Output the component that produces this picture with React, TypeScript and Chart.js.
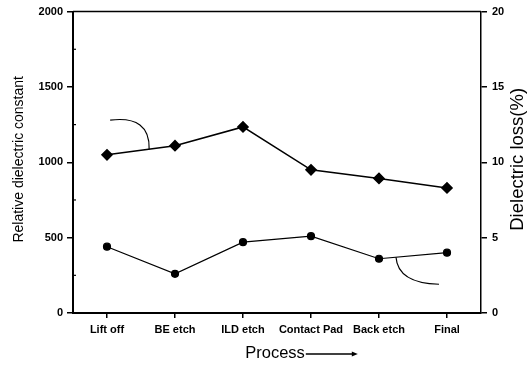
import React, { useEffect, useRef } from 'react';
import { Chart, registerables } from 'chart.js';

Chart.register(...registerables);

const categories = ['Lift off', 'BE etch', 'ILD etch', 'Contact Pad', 'Back etch', 'Final'];
const dielectricConstant = [1050, 1110, 1235, 950, 893, 830];
const dielectricLoss = [4.4, 2.6, 4.7, 5.1, 3.6, 4.0];
const leftMinorTicks = [250, 750, 1250, 1750];

const xTitle = 'Process';
const yTitle = 'Relative dielectric constant';
const y1Title = 'Dielectric loss(%)';

const FONT = "'Liberation Sans', Arial, sans-serif";

const decorPlugin = {
  id: 'decor',
  afterDraw(chart: any) {
    const { ctx, chartArea } = chart;
    const x = chart.scales.x;
    const y = chart.scales.y;
    const y1 = chart.scales.y1;
    ctx.save();
    ctx.strokeStyle = '#000';
    ctx.fillStyle = '#000';
    // top border
    ctx.lineWidth = 1.5;
    ctx.beginPath();
    ctx.moveTo(chartArea.left, chartArea.top);
    ctx.lineTo(chartArea.right, chartArea.top);
    ctx.stroke();
    // minor ticks on left axis
    ctx.lineWidth = 1.2;
    leftMinorTicks.forEach((v) => {
      const py = y.getPixelForValue(v);
      ctx.beginPath();
      ctx.moveTo(chartArea.left - 1, py);
      ctx.lineTo(chartArea.left + 3, py);
      ctx.stroke();
    });
    // annotation curve for upper series (points to left axis)
    const f = 0.62;
    const ex = x.getPixelForValue(f);
    const ey = y.getPixelForValue(dielectricConstant[0] + (dielectricConstant[1] - dielectricConstant[0]) * f);
    ctx.lineWidth = 1.2;
    ctx.beginPath();
    ctx.moveTo(ex - 39, ey - 29);
    ctx.quadraticCurveTo(ex + 1, ey - 34, ex, ey);
    ctx.stroke();
    // annotation curve for lower series (points to right axis)
    const g = 0.25;
    const sx = x.getPixelForValue(4 + g);
    const sy = y1.getPixelForValue(dielectricLoss[4] + (dielectricLoss[5] - dielectricLoss[4]) * g);
    ctx.beginPath();
    ctx.moveTo(sx, sy);
    ctx.quadraticCurveTo(sx + 2, sy + 26, sx + 43, sy + 27);
    ctx.stroke();

    // axis titles
    ctx.textBaseline = 'middle';
    ctx.textAlign = 'center';
    const midY = (chartArea.top + chartArea.bottom) / 2 - 3;
    // left title
    ctx.save();
    ctx.font = `14px ${FONT}`;
    ctx.translate(19, midY);
    ctx.rotate(-Math.PI / 2);
    ctx.fillText(yTitle, 0, 0);
    ctx.restore();
    // right title
    ctx.save();
    ctx.font = `18.5px ${FONT}`;
    ctx.translate(518, midY);
    ctx.rotate(-Math.PI / 2);
    ctx.fillText(y1Title, 0, 0);
    ctx.restore();
    // bottom title with arrow
    ctx.font = `16.5px ${FONT}`;
    const cx = (chartArea.left + chartArea.right) / 2 - 2;
    const ty = 353;
    ctx.fillText(xTitle, cx, ty);
    const tw = ctx.measureText(xTitle).width;
    const ax0 = cx + tw / 2 + 1;
    const ax1 = ax0 + 52;
    ctx.lineWidth = 1.3;
    ctx.beginPath();
    ctx.moveTo(ax0, ty + 1);
    ctx.lineTo(ax1 - 4, ty + 1);
    ctx.stroke();
    ctx.beginPath();
    ctx.moveTo(ax1, ty + 1);
    ctx.lineTo(ax1 - 6, ty - 1.5);
    ctx.lineTo(ax1 - 6, ty + 3.5);
    ctx.closePath();
    ctx.fill();
    ctx.restore();
  },
};

export default function App() {
  const ref = useRef<HTMLCanvasElement>(null);
  useEffect(() => {
    if (!ref.current) return;
    const tickFont = { family: FONT, size: 11, weight: 'bold' as const };
    const plain = (v: any) => String(v);
    const chart = new Chart(ref.current, {
      type: 'line',
      data: {
        labels: categories,
        datasets: [
          {
            data: dielectricConstant,
            yAxisID: 'y',
            borderColor: '#000',
            backgroundColor: '#000',
            borderWidth: 1.6,
            pointStyle: 'rectRot',
            pointRadius: 5,
            pointBackgroundColor: '#000',
            pointBorderColor: '#000',
            tension: 0,
          },
          {
            data: dielectricLoss,
            yAxisID: 'y1',
            borderColor: '#000',
            backgroundColor: '#000',
            borderWidth: 1.2,
            pointStyle: 'circle',
            pointRadius: 3.5,
            pointBackgroundColor: '#000',
            pointBorderColor: '#000',
            tension: 0,
          },
        ],
      },
      plugins: [decorPlugin],
      options: {
        responsive: false,
        animation: false,
        layout: { padding: { top: 10, left: 0, right: 0, bottom: 0 } },
        plugins: { legend: { display: false }, tooltip: { enabled: false } },
        scales: {
          x: {
            type: 'category',
            offset: true,
            grid: { display: true, drawOnChartArea: false, drawTicks: true, tickLength: 5, color: '#000', lineWidth: 1.5, offset: false },
            border: { display: true, color: '#000', width: 2 },
            ticks: { font: tickFont, color: '#000', padding: 5, maxRotation: 0, autoSkip: false },
            afterFit: (s: any) => { s.height = 53; },
          },
          y: {
            position: 'left',
            min: 0,
            max: 2000,
            ticks: { stepSize: 500, font: tickFont, color: '#000', padding: 4, callback: plain },
            grid: { display: true, drawOnChartArea: false, drawTicks: true, tickLength: 6, color: '#000', lineWidth: 1.5 },
            border: { display: true, color: '#000', width: 2 },
            afterFit: (s: any) => { s.width = 73; },
          },
          y1: {
            position: 'right',
            min: 0,
            max: 20,
            ticks: { stepSize: 5, font: tickFont, color: '#000', padding: 5, callback: plain },
            grid: { display: true, drawOnChartArea: false, drawTicks: true, tickLength: 6, color: '#000', lineWidth: 1.5 },
            border: { display: true, color: '#000', width: 1.5 },
            afterFit: (s: any) => { s.width = 48; },
          },
        },
      },
    });
    return () => chart.destroy();
  }, []);
  return (
    <div style={{ position: 'fixed', left: 0, top: 0, width: 529, height: 366, background: '#fff' }}>
      <canvas ref={ref} width={529} height={366} />
    </div>
  );
}
